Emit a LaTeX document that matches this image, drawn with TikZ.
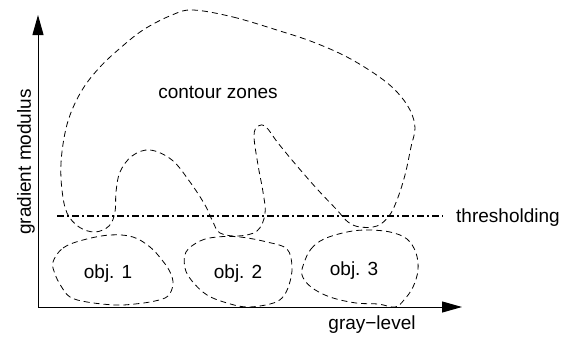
\documentclass[tikz,border=0pt]{standalone}
\usepackage{fontspec}
\setmainfont{Liberation Sans}
\usetikzlibrary{arrows.meta}
\begin{document}
\begin{tikzpicture}[x=1pt,y=-1pt,
  contour/.style={draw=black,line width=0.8pt,dash pattern=on 6pt off 4pt},
  axis/.style={draw=black,line width=1pt,-{Triangle[length=20pt,width=11pt]}},
  thresh/.style={draw=black,line width=1.4pt,dash pattern=on 7pt off 3pt on 2pt off 3pt},
  lbl/.style={inner sep=0pt,font=\fontsize{19}{22}\selectfont}]
\useasboundingbox (0,0) rectangle (563,338);
% axes
\coordinate (O) at (38,307);
\coordinate (Ytip) at (38,15);
\coordinate (Xtip) at (462,307);
\draw[axis] (O) -- (Ytip);
\draw[axis] (O) -- (Xtip);
% big contour zone
\draw[contour] plot[smooth cycle,tension=0.6] coordinates {
 (193,10) (233,17) (280,31) (313,42) (347,57) (378,76) (397,92) (410,110) (415,128) (411,147)
 (405,175) (397,200) (389,216) (377,226) (360,227) (348,222) (337,210)
 (318,190) (297,166) (278,143) (266,127) (258,126) (254,136) (258,165) (263,192) (265,214)
 (257,231) (238,236) (220,233) (213,222) (205,205) (190,182) (172,160) (150,150) (132,156)
 (120,172) (116,192) (115,212) (109,226) (95,232) (79,227) (67,213) (62,190) (61,163)
 (65,133) (72,110) (84,87) (100,67) (118,50) (143,30) (172,15)};
% objects
\draw[contour] plot[smooth cycle,tension=0.6] coordinates {
 (53,262) (63,248) (83,240) (110,235) (133,237) (150,247) (162,260) (170,272) (173,284)
 (168,296) (155,301) (135,304) (115,305) (87,302) (70,297) (61,286) (55,274)};
\draw[contour] plot[smooth cycle,tension=0.6] coordinates {
 (186,252) (200,241) (217,237) (240,237) (267,242) (287,249) (292,267) (289,285)
 (282,298) (270,304) (247,307) (227,303) (207,295) (192,281) (185,268)};
\draw[contour] plot[smooth cycle,tension=0.6] coordinates {
 (304,263) (311,249) (324,239) (347,232) (367,230) (390,232) (407,239) (416,253)
 (418,270) (413,287) (404,300) (395,307) (378,304) (356,303) (330,297) (311,287) (302,275)};
% thresholding line
\coordinate (T1) at (57,216);
\coordinate (T2) at (443,216);
\draw[thresh] (T1) -- (T2);
% labels
\node[lbl,anchor=base west] (thr) at (456,222) {thresholding};
\node[lbl,anchor=base] (cz) at (218,98) {contour zones};
\node[lbl,anchor=base] (o1) at (108,278) {obj. 1};
\node[lbl,anchor=base] (o2) at (238,278) {obj. 2};
\node[lbl,anchor=base] (o3) at (354,275) {obj. 3};
\node[lbl,anchor=base] (gl) at (372,329) {gray−level};
\node[lbl,rotate=90] (gm) at (26,162) {gradient modulus};
\end{tikzpicture}
\end{document}
